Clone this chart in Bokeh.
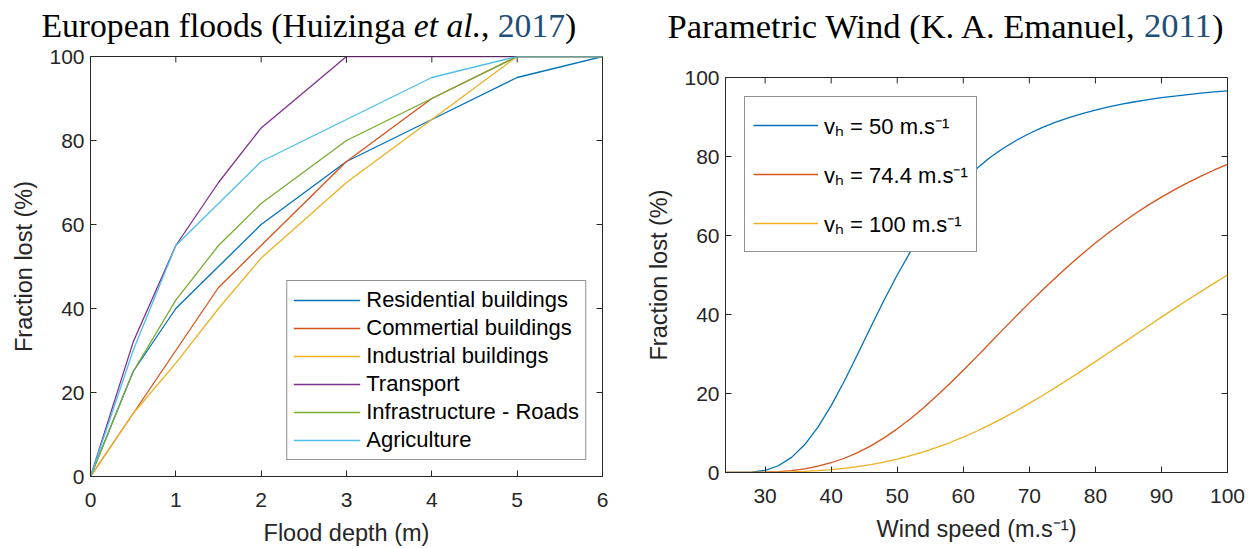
import glob
import math
import os

from bokeh.core.properties import value
from bokeh.embed import file_html
from bokeh.layouts import column, row
from bokeh.models import FixedTicker, Legend, LegendItem, Range1d
from bokeh.plotting import figure
from bokeh.resources import INLINE

# ---------------- data: European floods (Huizinga et al., 2017) -------------
depth = [0, 0.5, 1, 1.5, 2, 3, 4, 5, 6]
residential = [0, 25, 40, 50, 60, 75, 85, 95, 100]
commercial = [0, 15, 30, 45, 55, 75, 90, 100, 100]
industrial = [0, 15, 27, 40, 52, 70, 85, 100, 100]
transport = [0, 32, 55, 70, 83, 100, 100, 100, 100]
roads = [0, 25, 42, 55, 65, 80, 90, 100, 100]
agriculture = [0, 30, 55, 65, 75, 85, 95, 100, 100]
flood_names = ["Residential buildings", "Commertial buildings", "Industrial buildings",
               "Transport", "Infrastructure - Roads", "Agriculture"]

# ---------------- data: Parametric wind (Emanuel, 2011) ---------------------
wind = [24, 26, 28, 30, 32, 34, 36, 38, 40, 42, 44, 46, 48, 50, 52, 54, 56, 58, 60,
        62, 64, 66, 68, 70, 72, 74, 76, 78, 80, 82, 84, 86, 88, 90, 92, 94, 96, 98, 100]
loss_vh50 = [0.00, 0.00, 0.08, 0.55, 1.71, 3.83, 7.08, 11.48, 16.93, 23.18, 29.93, 36.83,
             43.60, 50.00, 55.90, 61.24, 65.97, 70.14, 73.77, 76.92, 79.66, 82.02, 84.06,
             85.83, 87.37, 88.70, 89.87, 90.88, 91.77, 92.56, 93.25, 93.86, 94.40, 94.88,
             95.31, 95.69, 96.03, 96.34, 96.62]
loss_vh744 = [0.00, 0.00, 0.01, 0.07, 0.22, 0.49, 0.94, 1.59, 2.47, 3.61, 5.04, 6.75, 8.76,
              11.05, 13.61, 16.40, 19.41, 22.59, 25.89, 29.28, 32.72, 36.17, 39.59, 42.95,
              46.22, 49.38, 52.42, 55.33, 58.09, 60.71, 63.18, 65.50, 67.68, 69.71, 71.61,
              73.39, 75.05, 76.59, 78.03]
loss_vh100 = [0.00, 0.00, 0.00, 0.02, 0.06, 0.14, 0.27, 0.45, 0.71, 1.04, 1.47, 2.00, 2.63,
              3.38, 4.25, 5.24, 6.35, 7.59, 8.96, 10.44, 12.05, 13.76, 15.58, 17.49, 19.48,
              21.55, 23.68, 25.86, 28.07, 30.32, 32.57, 34.83, 37.09, 39.33, 41.54, 43.72,
              45.86, 47.95, 50.00]
wind_names = ["vₕ = 50 m.s⁻¹", "vₕ = 74.4 m.s⁻¹", "vₕ = 100 m.s⁻¹"]

flood_ticks_x = [0, 1, 2, 3, 4, 5, 6]
flood_ticks_y = [0, 20, 40, 60, 80, 100]
wind_ticks_x = [30, 40, 50, 60, 70, 80, 90, 100]
wind_ticks_y = [0, 20, 40, 60, 80, 100]

# ---------------- styling -----------------------------------------------------
COLORS = ["#0072BD", "#D95319", "#EDB120", "#7E2F8E", "#77AC30", "#4DBEEE"]
AX = "#262626"
SANS = "Liberation Sans"
SERIF = "Liberation Serif"
FS = "21px"
FS_LABEL = "23.5px"
YEAR_BLUE = "#1d4f7c"
W, H = 1253, 548
W1 = 615
W2 = W - W1
TITLE_H = 44


def find_font(name):
    for root in ["/usr/share/fonts", "/usr/local/share/fonts",
                 os.path.expanduser("~/.fonts"), os.path.expanduser("~/.local/share/fonts")]:
        hits = glob.glob(os.path.join(root, "**", name), recursive=True)
        if hits:
            return hits[0]
    return None


REG = find_font("LiberationSerif-Regular.ttf")
ITA = find_font("LiberationSerif-Italic.ttf")


def text_width(s, size, italic=False):
    path = ITA if italic else REG
    try:
        from PIL import ImageFont
        if path:
            return ImageFont.truetype(path, int(round(size * 10))).getlength(s) / 10.0
    except Exception:
        pass
    return 0.45 * size * len(s)


def style_axes(p, xticks, yticks, xr, yr):
    p.xaxis.ticker = FixedTicker(ticks=xticks)
    p.yaxis.ticker = FixedTicker(ticks=yticks)
    for ax in p.axis:
        ax.axis_line_color = AX
        ax.axis_line_width = 1
        ax.major_tick_line_color = AX
        ax.major_tick_in = 6
        ax.major_tick_out = 0
        ax.minor_tick_line_color = None
        ax.major_label_text_color = AX
        ax.major_label_text_font = SANS
        ax.major_label_text_font_size = FS
        ax.axis_label_text_color = AX
        ax.axis_label_text_font = SANS
        ax.axis_label_text_font_size = FS_LABEL
        ax.axis_label_text_font_style = "normal"
    p.xaxis.major_label_standoff = 16
    p.xaxis.axis_label_standoff = 10
    p.yaxis.major_label_standoff = 6
    p.yaxis.axis_label_standoff = 9
    # mirrored inner ticks on the top and right edges of the box
    p.ray(x=xticks, y=[yr[1]] * len(xticks), length=6, angle=-math.pi / 2,
          length_units="screen", line_color=AX, line_width=1)
    p.ray(x=[xr[1]] * len(yticks), y=yticks, length=6, angle=math.pi,
          length_units="screen", line_color=AX, line_width=1)
    p.xgrid.grid_line_color = None
    p.ygrid.grid_line_color = None
    p.outline_line_color = AX
    p.background_fill_color = "white"
    p.border_fill_color = "white"


# ---------------- titles --------------------------------------------------------
left_title = [("European floods (Huizinga ", False, "black"), ("et al.", True, "black"),
              (", ", False, "black"), ("2017", False, YEAR_BLUE), (")", False, "black")]
right_title = [("Parametric Wind (K. A. Emanuel, ", False, "black"),
               ("2011", False, YEAR_BLUE), (")", False, "black")]


def total_width(pieces, size):
    return sum(text_width(t, size, i) for t, i, _ in pieces)


s1 = 30 * 526 / total_width(left_title, 30)
s2 = 30 * 562 / total_width(right_title, 30)
BASE_SIZE = (s1 + s2) / 2


def title_strip(width, pieces, x0, size):
    ts = figure(width=width, height=TITLE_H, output_backend="svg", toolbar_location=None,
                x_range=Range1d(0, width), y_range=Range1d(TITLE_H, 0),
                min_border=0, x_axis_type=None, y_axis_type=None)
    ts.outline_line_color = None
    ts.xgrid.grid_line_color = None
    ts.ygrid.grid_line_color = None
    ts.background_fill_color = "white"
    ts.border_fill_color = "white"
    x = x0
    for txt, italic, color in pieces:
        ts.text(x=[x], y=[25], text=[txt], text_font=value(SERIF),
                text_font_size=value(f"{size:.2f}px"),
                text_font_style=value("italic" if italic else "normal"),
                text_color=color, text_align=value("left"),
                text_baseline=value("middle"))
        x += text_width(txt, size, italic)
    return ts


t1 = title_strip(W1, left_title, 41, BASE_SIZE * 0.989)
t2 = title_strip(W2, right_title, 667 - W1, BASE_SIZE * 1.016)

PH = H - TITLE_H

# ---------------- left figure -------------------------------------------------
p1 = figure(width=W1, height=PH, output_backend="svg", toolbar_location=None,
            x_range=Range1d(0, 6), y_range=Range1d(0, 100),
            min_border_left=90, min_border_right=13, min_border_top=56 - TITLE_H,
            min_border_bottom=H - 477)
p1.xaxis.axis_label = "Flood depth (m)"
p1.yaxis.axis_label = "Fraction lost (%)"
style_axes(p1, flood_ticks_x, flood_ticks_y, (0, 6), (0, 100))

items = []
for name, ys, c in zip(flood_names,
                       [residential, commercial, industrial, transport, roads, agriculture],
                       COLORS):
    r = p1.line(depth, ys, line_color=c, line_width=1.3)
    items.append(LegendItem(label=name, renderers=[r]))
leg1 = Legend(items=items, location="bottom_right", margin=16, padding=6, spacing=2,
              glyph_width=67, glyph_height=24, label_height=24, label_standoff=6,
              label_text_font=SANS, label_text_font_size="22px", label_text_color="black",
              border_line_color=AX, border_line_width=1, background_fill_color="white",
              background_fill_alpha=1.0)
p1.add_layout(leg1)

# ---------------- right figure ------------------------------------------------
p2 = figure(width=W2, height=PH, output_backend="svg", toolbar_location=None,
            x_range=Range1d(24, 100), y_range=Range1d(0, 100),
            min_border_left=110, min_border_right=26, min_border_top=77 - TITLE_H,
            min_border_bottom=H - 472)
p2.xaxis.axis_label = "Wind speed (m.s⁻¹)"
p2.yaxis.axis_label = "Fraction lost (%)"
style_axes(p2, wind_ticks_x, wind_ticks_y, (24, 100), (0, 100))

items2 = []
for name, ys, c in zip(wind_names, [loss_vh50, loss_vh744, loss_vh100], COLORS[:3]):
    r = p2.line(wind, ys, line_color=c, line_width=1.3)
    items2.append(LegendItem(label=name, renderers=[r]))
leg2 = Legend(items=items2, location="top_left", margin=19, padding=8, spacing=9,
              glyph_width=65, glyph_height=40, label_height=40, label_standoff=6,
              label_text_font=SANS, label_text_font_size="22px", label_text_color="black",
              border_line_color=AX, border_line_width=1, background_fill_color="white",
              background_fill_alpha=1.0)
p2.add_layout(leg2)

# title strips are wrapped in rows so that their frames are not aligned with the plots
layout = row(column(row(t1), p1), column(row(t2), p2))
open("out.html", "w").write(file_html(layout, INLINE))
